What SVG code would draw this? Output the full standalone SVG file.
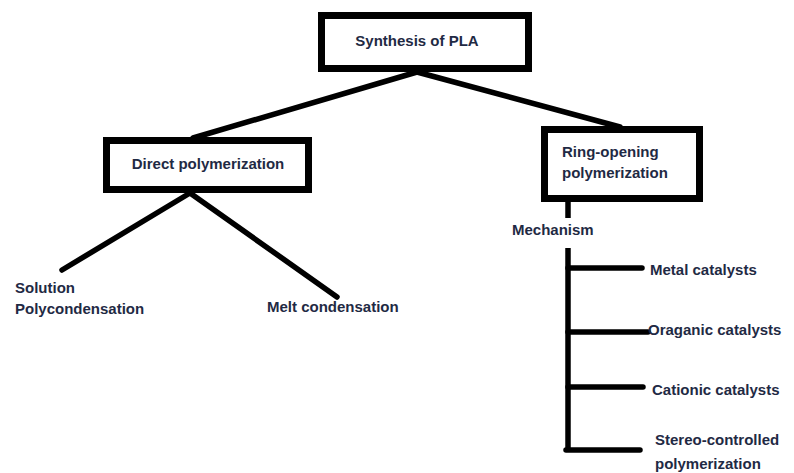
<svg xmlns="http://www.w3.org/2000/svg" width="794" height="473" viewBox="0 0 794 473">
<style>
.box{fill:#fff;stroke:#000;stroke-width:7}
.ln{stroke:#000;stroke-width:5.5;stroke-linecap:round;fill:none}
text{font-family:"Liberation Sans",Arial,sans-serif;font-weight:bold;font-size:15px;fill:#1f2a44}
</style>
<rect width="794" height="473" fill="#fff"/>
<g id="connectors">
<line class="ln" x1="417" y1="72" x2="193" y2="138"/>
<line class="ln" x1="417" y1="72" x2="620" y2="127"/>
<line class="ln" x1="190" y1="193" x2="62" y2="270"/>
<line class="ln" x1="190" y1="193" x2="337" y2="297"/>
<line class="ln" x1="568" y1="202" x2="568" y2="218" style="stroke-linecap:butt"/>
<line class="ln" x1="568" y1="248" x2="568" y2="451" style="stroke-linecap:butt"/>
<line class="ln" x1="568" y1="268" x2="642" y2="268"/>
<line class="ln" x1="568" y1="332" x2="648" y2="332"/>
<line class="ln" x1="568" y1="387" x2="643" y2="387"/>
<line class="ln" x1="566" y1="450" x2="640" y2="450"/>
</g>
<g id="synthesis">
<rect class="box" x="321.5" y="15.5" width="207" height="53"/>
<text x="417" y="46" text-anchor="middle">Synthesis of PLA</text>
</g>
<g id="direct">
<rect class="box" x="106.5" y="140.5" width="202" height="49"/>
<text x="208" y="169" text-anchor="middle">Direct polymerization</text>
</g>
<g id="ring">
<rect class="box" x="544.5" y="129.5" width="155" height="69"/>
<text x="562" y="157">Ring-opening</text>
<text x="562" y="178">polymerization</text>
</g>
<g id="mechanism"><text x="512" y="235">Mechanism</text></g>
<g id="solution"><text x="15" y="293">Solution</text><text x="15" y="314">Polycondensation</text></g>
<g id="melt"><text x="267" y="312">Melt condensation</text></g>
<g id="metal"><text x="650" y="275">Metal catalysts</text></g>
<g id="organic"><text x="648" y="335">Oraganic catalysts</text></g>
<g id="cationic"><text x="652" y="395">Cationic catalysts</text></g>
<g id="stereo"><text x="655" y="445">Stereo-controlled</text><text x="655" y="469">polymerization</text></g>
</svg>
